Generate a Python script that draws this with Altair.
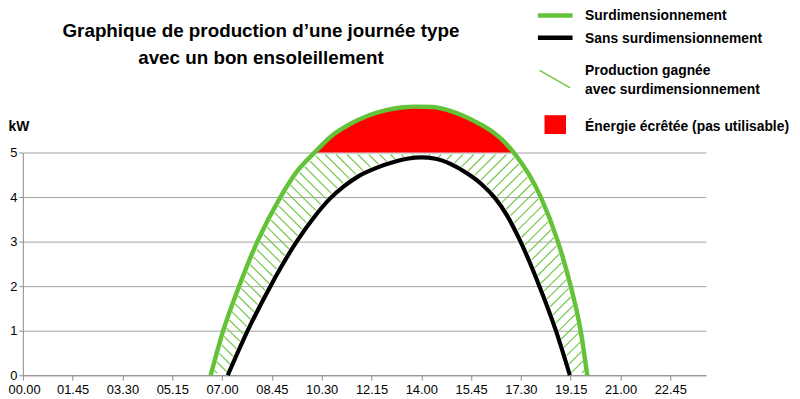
import altair as alt
import numpy as np
import pandas as pd

# ---------------- data ----------------
TITLE_LINES = ["Graphique de production d’une journée type", "avec un bon ensoleillement"]
Y_TITLE = "kW"
TICK_HOURS = [0, 1.75, 3.5, 5.25, 7, 8.75, 10.5, 12.25, 14, 15.75, 17.5, 19.25, 21, 22.75]
TICK_LABELS = ["00.00", "01.45", "03.30", "05.15", "07.00", "08.45", "10.30",
               "12.15", "14.00", "15.45", "17.30", "19.15", "21.00", "22.45"]
KW_TICKS = [0, 1, 2, 3, 4, 5]
CAP_KW = 5
LEGEND_LABELS = ["Surdimensionnement", "Sans surdimensionnement",
                 "Production gagnée", "avec surdimensionnement",
                 "Énergie écrêtée (pas utilisable)"]

# with oversizing (green)
GREEN_H = [6.60, 7.04, 7.60, 8.24, 9.05, 9.60, 10.25, 10.90, 11.50, 12.10, 12.70, 13.30,
           13.80, 14.40, 15.04, 15.85, 16.54, 16.90, 17.25, 18.20, 18.80, 19.25, 19.60, 19.83]
GREEN_KW = [0.00, 1.00, 2.00, 3.00, 4.00, 4.55, 5.00, 5.40, 5.64, 5.82, 5.94, 6.01,
            6.03, 6.02, 5.93, 5.71, 5.45, 5.25, 5.00, 4.00, 3.00, 2.00, 1.00, 0.00]
# without oversizing (black)
BLACK_H = [7.20, 7.90, 8.70, 9.62, 10.20, 10.80, 11.30, 11.80, 12.40, 13.00, 13.50,
           14.00, 14.50, 15.04, 15.62, 16.10, 16.60, 17.00, 17.45, 18.15, 18.73, 19.22]
BLACK_KW = [0.00, 1.00, 2.00, 3.00, 3.52, 3.97, 4.25, 4.47, 4.65, 4.78, 4.86,
            4.89, 4.86, 4.74, 4.53, 4.30, 3.97, 3.60, 3.05, 2.00, 1.00, 0.00]

# ---------------- styling ----------------
W, H = 690, 225
X_MAX = 24
GREEN = "#64c238"
HATCH = "#74c94c"
RED = "#ff0000"
GRID = "#a3a3a3"
AXIS = "#8c8c8c"
FONT = "Liberation Sans"

green_df = pd.DataFrame({"h": GREEN_H, "kw": GREEN_KW})
black_df = pd.DataFrame({"h": BLACK_H, "kw": BLACK_KW})


# ---------------- hatch segments derived from the two curves ----------------
def monotone_dense(xs, ys, n=80):
    xs = np.asarray(xs, float)
    ys = np.asarray(ys, float)
    h = np.diff(xs)
    s = np.diff(ys) / h
    m = len(xs)
    t = np.zeros(m)
    for i in range(1, m - 1):
        h0, h1, s0, s1 = h[i - 1], h[i], s[i - 1], s[i]
        p = (s0 * h1 + s1 * h0) / (h0 + h1)
        sg = (1 if s0 >= 0 else -1) + (1 if s1 >= 0 else -1)
        t[i] = sg * min(abs(s0), abs(s1), 0.5 * abs(p))
    t[0] = (3 * s[0] - t[1]) / 2
    t[-1] = (3 * s[-1] - t[-2]) / 2
    u = np.linspace(0, 1, n, endpoint=False)
    ox, oy = [], []
    for i in range(m - 1):
        y0, y1 = ys[i], ys[i + 1]
        c1 = y0 + t[i] * h[i] / 3
        c2 = y1 - t[i + 1] * h[i] / 3
        ox.append(xs[i] + h[i] * u)
        oy.append((1 - u) ** 3 * y0 + 3 * (1 - u) ** 2 * u * c1
                  + 3 * (1 - u) * u ** 2 * c2 + u ** 3 * y1)
    ox.append([xs[-1]])
    oy.append([ys[-1]])
    return np.concatenate(ox), np.concatenate(oy)


gx, gy = monotone_dense(GREEN_H, GREEN_KW)
bx, by = monotone_dense(BLACK_H, BLACK_KW)


def upper(h):
    v = np.minimum(np.interp(h, gx, gy), CAP_KW)
    v[(h < gx[0]) | (h > gx[-1])] = -1
    return v


def lower(h):
    v = np.interp(h, bx, by)
    v[(h < bx[0]) | (h > bx[-1])] = 0
    return v


SX = W / X_MAX
SY = H / CAP_KW
split_h = BLACK_H[int(np.argmax(BLACK_KW))]


def hatch(d, h_lo, h_hi, spacing=11.0, inset=2.8):
    X = np.arange(h_lo * SX, h_hi * SX, 0.2)
    corners = [y - d * x for y in (0, H) for x in (X[0], X[-1])]
    rows = []
    for c in np.arange(min(corners), max(corners), spacing):
        Y = d * X + c
        k = CAP_KW - Y / SY
        hh = X / SX
        inside = (k > lower(hh)) & (k < upper(hh))
        idx = np.flatnonzero(inside)
        if idx.size == 0:
            continue
        breaks = np.flatnonzero(np.diff(idx) > 1)
        starts = np.concatenate([[idx[0]], idx[breaks + 1]])
        ends = np.concatenate([idx[breaks], [idx[-1]]])
        for a, b in zip(starts, ends):
            x0, x1 = X[a], X[b]
            if (x1 - x0) * np.sqrt(2) <= 2 * inset + 1:
                continue
            x0 += inset / np.sqrt(2)
            x1 -= inset / np.sqrt(2)
            y0, y1 = d * x0 + c, d * x1 + c
            rows.append({"h": x0 / SX, "k": CAP_KW - y0 / SY,
                         "h2": x1 / SX, "k2": CAP_KW - y1 / SY})
    return rows


hatch_df = pd.DataFrame(hatch(1, GREEN_H[0] - 0.1, split_h) +
                        hatch(-1, split_h, GREEN_H[-1] + 0.1))

# ---------------- chart ----------------
xscale = alt.Scale(domain=[0, X_MAX], nice=False, zero=False)
yscale = alt.Scale(domain=[0, CAP_KW], nice=False)
label_expr = "[" + ",".join(f"'{t}'" for t in TICK_LABELS) + "][round(datum.value / 1.75)]"

x_axis = alt.Axis(values=TICK_HOURS, labelExpr=label_expr, grid=False, title=None,
                  domainColor=AXIS, tickColor=AXIS, tickSize=5, labelFontSize=13,
                  labelColor="#000", labelPadding=3, labelFlush=True,
                  labelFlushOffset=15, labelFont=FONT)
y_axis = alt.Axis(values=KW_TICKS, grid=True, gridColor=GRID, gridWidth=1, title=None,
                  domainColor=AXIS, tickColor=AXIS, tickSize=4, labelFontSize=13,
                  labelColor="#000", labelPadding=2, labelFont=FONT)

red_area = alt.Chart(green_df).transform_filter(
    f"datum.kw >= {CAP_KW}"
).transform_calculate(base=str(CAP_KW)).mark_area(
    color=RED, interpolate="monotone"
).encode(
    x=alt.X("h:Q", scale=xscale, axis=x_axis),
    y=alt.Y("kw:Q", scale=yscale, axis=y_axis),
    y2="base:Q",
)

hatch_rules = alt.Chart(hatch_df).mark_rule(color=HATCH, strokeWidth=1.2).encode(
    x=alt.X("h:Q", scale=xscale), y=alt.Y("k:Q", scale=yscale), x2="h2:Q", y2="k2:Q"
)

black_line = alt.Chart(black_df).mark_line(
    color="#000", strokeWidth=4.2, interpolate="monotone"
).encode(x=alt.X("h:Q", scale=xscale), y=alt.Y("kw:Q", scale=yscale))

green_line = alt.Chart(green_df).mark_line(
    color=GREEN, strokeWidth=4.5, interpolate="monotone"
).encode(x=alt.X("h:Q", scale=xscale), y=alt.Y("kw:Q", scale=yscale))


def one(label):
    return pd.DataFrame({"label": [label]})


def text_layer(label, x, y, size, align="left", weight="bold"):
    return alt.Chart(one(label)).mark_text(
        align=align, baseline="alphabetic", fontSize=size, fontWeight=weight,
        font=FONT, color="#000"
    ).encode(x=alt.value(x), y=alt.value(y), text="label:N")


title1 = text_layer(TITLE_LINES[0], 240.5, -116.3, 19, align="center")
title2 = text_layer(TITLE_LINES[1], 240.5, -89.5, 19, align="center")
kw_label = text_layer(Y_TITLE, -14.5, -22, 14)

LX = 568
leg_texts = [
    text_layer(LEGEND_LABELS[0], LX, -133.5, 14),
    text_layer(LEGEND_LABELS[1], LX, -110.5, 14),
    text_layer(LEGEND_LABELS[2], LX, -78.7, 14),
    text_layer(LEGEND_LABELS[3], LX, -58.7, 14),
    text_layer(LEGEND_LABELS[4], LX, -22, 14),
]
leg_green = alt.Chart(one("g")).mark_rule(color=GREEN, strokeWidth=4.5).encode(
    x=alt.value(520.3), x2=alt.value(555.3), y=alt.value(-138.5))
leg_black = alt.Chart(one("b")).mark_rule(color="#000", strokeWidth=4.5).encode(
    x=alt.value(520.3), x2=alt.value(555.3), y=alt.value(-116))
leg_hatch = alt.Chart(one("h")).mark_rule(color=HATCH, strokeWidth=1.6).encode(
    x=alt.value(522), x2=alt.value(553), y=alt.value(-83), y2=alt.value(-65.3))
leg_red = alt.Chart(one("r")).mark_rect(color=RED).encode(
    x=alt.value(527), x2=alt.value(548.7), y=alt.value(-37.7), y2=alt.value(-18.7))

chart = alt.layer(
    red_area, hatch_rules, black_line, green_line,
    title1, title2, kw_label, leg_green, leg_black, leg_hatch, leg_red, *leg_texts
).properties(
    width=W, height=H,
    autosize=alt.AutoSizeParams(type="none"),
    padding={"left": 15, "top": 144, "right": 87, "bottom": 22},
).configure_view(strokeWidth=0).configure_axis(labelFont=FONT)

chart.save("out.html", embed_options={"renderer": "svg", "actions": False})
